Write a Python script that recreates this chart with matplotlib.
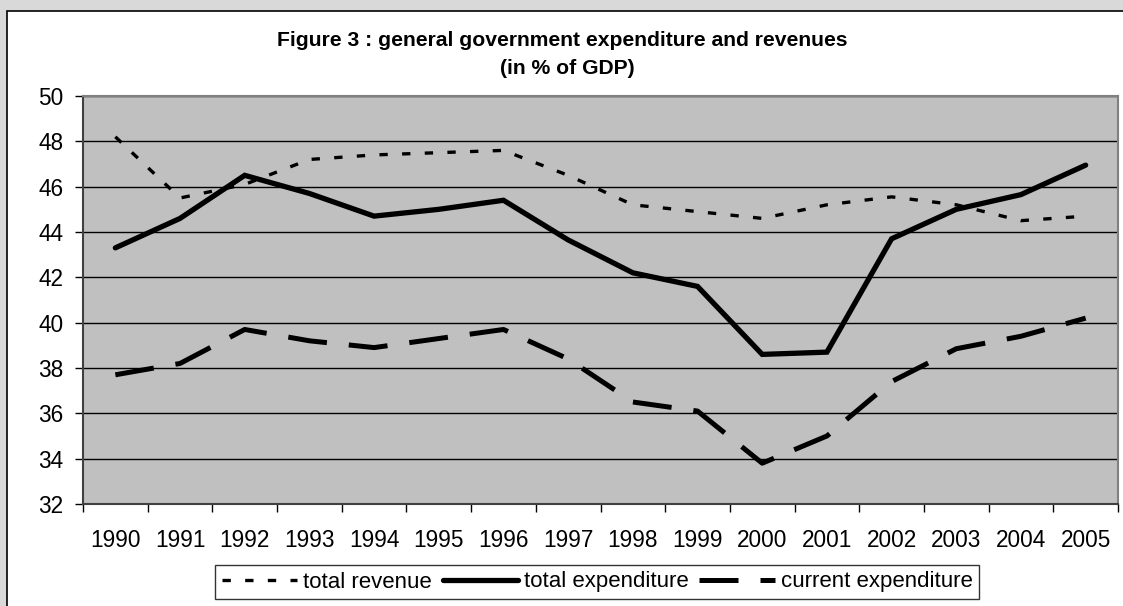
import numpy as np
import matplotlib
matplotlib.use("Agg")
import matplotlib.pyplot as plt
from matplotlib.patches import Rectangle

plt.rcParams['font.family'] = ['Liberation Sans', 'DejaVu Sans']

years = ["1990", "1991", "1992", "1993", "1994", "1995", "1996", "1997",
         "1998", "1999", "2000", "2001", "2002", "2003", "2004", "2005"]
total_revenue = [48.2, 45.5, 46.1, 47.2, 47.4, 47.5, 47.6, 46.5,
                 45.2, 44.9, 44.6, 45.2, 45.55, 45.2, 44.5, 44.7]
total_expenditure = [43.3, 44.6, 46.5, 45.7, 44.7, 45.0, 45.4, 43.65,
                     42.2, 41.6, 38.6, 38.7, 43.7, 45.0, 45.65, 46.95]
current_expenditure = [37.7, 38.2, 39.7, 39.2, 38.9, 39.3, 39.7, 38.4,
                       36.5, 36.1, 33.8, 35.0, 37.4, 38.85, 39.4, 40.2]

W, H = 1123, 606
fig = plt.figure(figsize=(W / 100, H / 100), dpi=100)
fig.patch.set_facecolor('#d9d9d9')

# white chart area (runs off the right and bottom edges)
fig.patches.append(Rectangle((7 / W, -0.05), 1.2, 1 - 11 / H + 0.05,
                             transform=fig.transFigure, facecolor='white',
                             edgecolor='black', lw=1.2, zorder=-10))

ax = fig.add_axes([83 / W, 1 - 504 / H, (1118 - 83) / W, (504 - 96) / H])
ax.set_facecolor('#c0c0c0')

x = np.arange(len(years))
ax.plot(x, total_revenue, color='black', lw=2.4, dashes=(2.5, 4.3),
        dash_capstyle='butt', label='total revenue')
ax.plot(x, total_expenditure, color='black', lw=3.8, solid_capstyle='round',
        solid_joinstyle='miter', label='total expenditure')
ax.plot(x, current_expenditure, color='black', lw=3.6, dashes=(7.8, 4.4),
        dash_capstyle='butt', label='current expenditure')

ax.set_xlim(-0.5, len(years) - 0.5)
ax.set_ylim(32, 50)
ax.set_yticks(np.arange(32, 51, 2))
ax.yaxis.grid(True, color='black', lw=1)
ax.set_axisbelow(True)

ax.set_xticks(x)
ax.set_xticklabels(years)
ax.set_xticks(np.arange(-0.5, len(years), 1), minor=True)
ax.tick_params(axis='x', which='major', length=0, pad=18, labelsize=16.3)
ax.tick_params(axis='x', which='minor', length=6, width=1, color='black')
ax.tick_params(axis='y', length=6, width=1, pad=8, labelsize=16.3)

for s in ax.spines.values():
    s.set_color('#808080')
    s.set_linewidth(1.5)
ax.spines['left'].set_color('#404040')
ax.spines['bottom'].set_color('#404040')

fig.text(562 / W, 1 - 41 / H, 'Figure 3 : general government expenditure and revenues',
         ha='center', va='center', fontsize=15.2, fontweight='bold')
fig.text(567 / W, 1 - 68 / H, '(in % of GDP)',
         ha='center', va='center', fontsize=15.2, fontweight='bold')

leg = fig.legend(loc='center', bbox_to_anchor=(597 / W, 1 - 582 / H), ncol=3,
                 fontsize=16, frameon=True, fancybox=False, handlelength=3.4,
                 handletextpad=0.25, columnspacing=0.5, borderpad=0.3)
leg.get_frame().set_edgecolor('black')
leg.get_frame().set_linewidth(1)

fig.savefig('out.png', dpi=100, facecolor=fig.get_facecolor())
